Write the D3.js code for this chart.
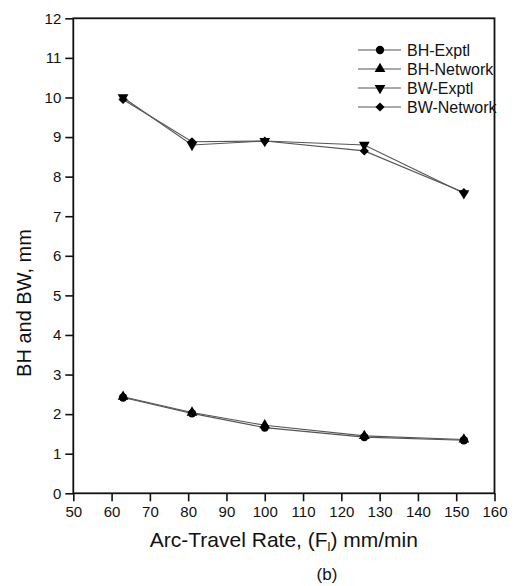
<!DOCTYPE html>
<html><head><meta charset="utf-8">
<script src="https://cdn.jsdelivr.net/npm/d3@7"></script>
<style>body{margin:0;background:#fff}svg{display:block}text{font-family:"Liberation Sans",Arial,sans-serif;fill:#111}</style>
</head><body><svg id="c" width="515" height="586"></svg>
<script>
const travelRate = [63, 81, 100, 126, 152];
const bhExptl   = [2.42, 2.02, 1.66, 1.42, 1.34];
const bhNetwork = [2.44, 2.04, 1.72, 1.45, 1.36];
const bwExptl   = [10.0, 8.80, 8.90, 8.80, 7.58];
const bwNetwork = [9.95, 8.88, 8.90, 8.65, 7.60];
const seriesNames = ["BH-Exptl", "BH-Network", "BW-Exptl", "BW-Network"];
const xTicks = [50,60,70,80,90,100,110,120,130,140,150,160];
const yTicks = [0,1,2,3,4,5,6,7,8,9,10,11,12];

const svg = d3.select("#c");
const L = 73.3, R = 494.5, T = 18.3, B = 493.3;
const x = d3.scaleLinear().domain([50,160]).range([L,R]);
const y = d3.scaleLinear().domain([0,12]).range([B,T]);

const series = [
  {name: seriesNames[0], vals: bhExptl,   sym: d3.symbolCircle,   size: 55, rot: 0},
  {name: seriesNames[1], vals: bhNetwork, sym: d3.symbolTriangle, size: 50, rot: 0},
  {name: seriesNames[2], vals: bwExptl,   sym: d3.symbolTriangle, size: 50, rot: 180},
  {name: seriesNames[3], vals: bwNetwork, sym: d3.symbolSquare,   size: 42, rot: 45}
];

// axes
const xa = svg.append("g").attr("transform",`translate(0,${B})`)
  .call(d3.axisBottom(x).tickValues(xTicks).tickSize(8).tickPadding(5).tickSizeOuter(0));
const ya = svg.append("g").attr("transform",`translate(${L},0)`)
  .call(d3.axisLeft(y).tickValues(yTicks).tickSize(8).tickPadding(4).tickSizeOuter(0));
[xa, ya].forEach(a => {
  a.select(".domain").remove();
  a.selectAll("line").attr("stroke","#111").attr("stroke-width",1.6);
  a.selectAll("text").attr("font-size",15).style("fill","#111");
});
// frame
svg.append("rect").attr("x",L).attr("y",T).attr("width",R-L).attr("height",B-T)
  .attr("fill","none").attr("stroke","#111").attr("stroke-width",1.8);

// lines
const line = d3.line().x((d,i)=>x(travelRate[i])).y(d=>y(d));
series.forEach(s => {
  svg.append("path").datum(s.vals).attr("d", line)
    .attr("fill","none").attr("stroke","#555").attr("stroke-width",1.1);
});
// markers
series.forEach(s => {
  svg.append("g").selectAll("path").data(s.vals).join("path")
    .attr("d", d3.symbol().type(s.sym).size(s.size))
    .attr("transform",(d,i)=>`translate(${x(travelRate[i])},${y(d)}) rotate(${s.rot})`)
    .attr("fill","#000");
});

// legend
const lg = svg.append("g");
series.forEach((s,i) => {
  const yy = 50 + i*19;
  lg.append("line").attr("x1",358).attr("x2",401).attr("y1",yy).attr("y2",yy)
    .attr("stroke","#555").attr("stroke-width",1.1);
  lg.append("path").attr("d", d3.symbol().type(s.sym).size(s.size))
    .attr("transform",`translate(380,${yy}) rotate(${s.rot})`).attr("fill","#000");
  lg.append("text").attr("x",407).attr("y",yy+6).attr("font-size",16).text(s.name);
});

// titles
const xt = svg.append("text").attr("x",(L+R)/2).attr("y",547).attr("text-anchor","middle").attr("font-size",21);
xt.append("tspan").text("Arc-Travel Rate, (F");
xt.append("tspan").attr("font-size",13).attr("dy",4).text("l");
xt.append("tspan").attr("dy",-4).text(") mm/min");
svg.append("text").attr("transform","translate(31,303) rotate(-90)").attr("text-anchor","middle")
  .attr("font-size",20).text("BH and BW, mm");
svg.append("text").attr("x",327).attr("y",580).attr("text-anchor","middle").attr("font-size",17).text("(b)");
</script></body></html>
